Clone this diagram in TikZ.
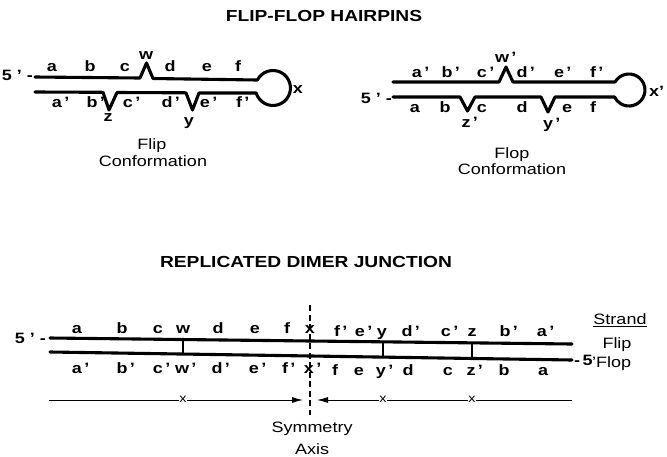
\documentclass[tikz,border=0pt]{standalone}
\usepackage{fontspec}
\setmainfont{Liberation Sans}[FakeStretch=1.2]
\usetikzlibrary{arrows.meta,calc}

% letter with a prime hanging to its right, centred on the letter
\newcommand{\pr}[1]{#1\rlap{\,'}}

\begin{document}
\begin{tikzpicture}[x=1pt,y=-1pt,
  strand/.style={line width=3.1pt,line join=round,line cap=round},
  tie/.style={line width=1.9pt},
  lab/.style={font=\fontsize{15}{17}\selectfont\bfseries,inner sep=0pt,anchor=base},
  ttl/.style={font=\fontsize{16}{18}\selectfont\bfseries,inner sep=0pt,anchor=base},
  txt/.style={font=\fontsize{15}{17}\selectfont,inner sep=0pt,anchor=base},
  axis/.style={line width=1.2pt,dash pattern=on 6pt off 3.5pt},
  span/.style={line width=0.9pt},
  tick/.style={font=\fontsize{12}{13}\selectfont,fill=white,inner sep=0.8pt},
  tip/.style={-{Latex[length=11pt,width=6pt]}}
]
\useasboundingbox (0,0) rectangle (667,456);

% ---------- titles ----------
\node[ttl] (t1) at (324,21) {FLIP-FLOP HAIRPINS};
\node[ttl] (t2) at (306,267) {REPLICATED DIMER JUNCTION};

% ---------- flip hairpin ----------
\draw[strand] (35,77) -- (140,78) -- (146.5,63) -- (153,78.5) -- (257.4,80)
  arc[start angle=207.2,end angle=523.4,radius=17.5]
  -- (199,93) -- (192.5,110) -- (186,92.8) -- (117,92.5) -- (109,110) -- (103,92.3) -- (35,92);
\node[lab,anchor=base east] (f5) at (33,80) {5 ' -};
\foreach \n/\t/\xx in {fa/a/52,fb/b/90,fc/c/125,fd/d/170,fe/e/207,ff/f/238}
  \node[lab] (\n) at (\xx,71) {\t};
\node[lab] (fw) at (146,59) {w};
\foreach \n/\t/\xx in {fa2/a/57,fb2/b/92,fc2/c/128,fd2/d/167,fe2/e/205,ff2/f/239}
  \node[lab] (\n) at (\xx,107) {\pr{\t}};
\node[lab] (fz) at (108,121) {z};
\node[lab] (fy) at (189,125) {y};
\node[lab] (fx) at (298,93) {x};
\node[txt] (flip1) at (152,149) {Flip};
\node[txt] (flip2) at (153,166) {Conformation};

% ---------- flop hairpin ----------
\draw[strand] (393,82) -- (499,82) -- (506,67) -- (513,82) -- (615.1,82)
  arc[start angle=210,end angle=514,radius=16]
  -- (555,97) -- (548,112) -- (541,97) -- (475,97) -- (467.5,111) -- (460,97) -- (393,97);
\node[lab,anchor=base east] (g5) at (392,103) {5 ' -};
\foreach \n/\t/\xx in {ga/a/417,gb/b/447,gc/c/482,gd/d/522,ge/e/559,gf/f/593}
  \node[lab] (\n) at (\xx,77) {\pr{\t}};
\node[lab] (gw) at (502,62) {\pr{w}};
\foreach \n/\t/\xx in {ga2/a/415,gb2/b/445,gc2/c/482,gd2/d/522,ge2/e/567,gf2/f/593}
  \node[lab] (\n) at (\xx,112) {\t};
\node[lab] (gz) at (466,127) {\pr{z}};
\node[lab] (gy) at (548,128) {\pr{y}};
\node[lab,anchor=base west] (gx) at (649,96) {x'};
\node[txt] (flop1) at (512,158) {Flop};
\node[txt] (flop2) at (512,174) {Conformation};

% ---------- replicated dimer junction ----------
\coordinate (TL) at (50,338);
\coordinate (TR) at (572,344);
\coordinate (BL) at (50,352);
\coordinate (BR) at (572,360);
\draw[strand] (TL) -- (TR);
\draw[strand] (BL) -- (BR);
\foreach \p/\n in {0.2548/w,0.6379/y,0.8084/z} {
  \coordinate (top\n) at ($(TL)!\p!(TR)$);
  \coordinate (bot\n) at ($(BL)!\p!(BR)$);
  \draw[tie] (top\n) -- (bot\n);
}
\coordinate (axtop) at (310,305);
\coordinate (axbot) at (310,415);
\draw[axis] (axtop) -- (axbot);

\node[lab,anchor=base east] (d5) at (46,343) {5 ' -};
% flip strand labels
\foreach \n/\t/\xx in {da/a/77,db/b/122,dc/c/158,dw/w/183,dd/d/218,de/e/255,df/f/287,dx/x/310}
  \node[lab] (\n) at (\xx,333) {\t};
\foreach \n/\t/\xx in {dfp/f/337,dep/e/360,dd2/d/407,dc2/c/446,db2/b/505,da2/a/542}
  \node[lab] (\n) at (\xx,336) {\pr{\t}};
\node[lab] (dy) at (382,336) {y};
\node[lab] (dz) at (472,336) {z};
% flop strand labels
\foreach \n/\t/\xx in {ea/a/77,eb/b/122,ec/c/158,ew/w/182,ed/d/217,ee/e/254,ef/f/285,ex/x/309}
  \node[lab] (\n) at (\xx,373) {\pr{\t}};
\foreach \n/\t/\xx in {ef2/f/335,ee2/e/359,ed2/d/408,ec2/c/448,eb2/b/504,ea2/a/543}
  \node[lab] (\n) at (\xx,375) {\t};
\node[lab] (ey) at (381,375) {\pr{y}};
\node[lab] (ez) at (471,375) {\pr{z}};

% strand key
\node[txt] (strand) at (620,324) {Strand};
\draw[line width=0.8pt] ($(strand.base west)+(0,2.5)$) -- ($(strand.base east)+(0,2.5)$);
\node[txt] (kflip) at (617,348) {Flip};
\node[lab,anchor=base west] (k5) at (574,365) {-\,5};
\node[txt,anchor=base west] (kflop) at (592,367) {'Flop};

% spans measured from the symmetry axis
\coordinate (sL) at (49,400);
\coordinate (sLtip) at (303,400);
\coordinate (sR) at (572,400);
\coordinate (sRtip) at (317,400);
\draw[span,tip] (sL) -- (sLtip);
\draw[span,tip] (sR) -- (sRtip);
\node[tick] (x1) at (183,399) {x};
\node[tick] (x2) at (383,399) {x};
\node[tick] (x3) at (472,399) {x};

\node[txt] (sym1) at (312,432) {Symmetry};
\node[txt] (sym2) at (312,454) {Axis};
\end{tikzpicture}
\end{document}
